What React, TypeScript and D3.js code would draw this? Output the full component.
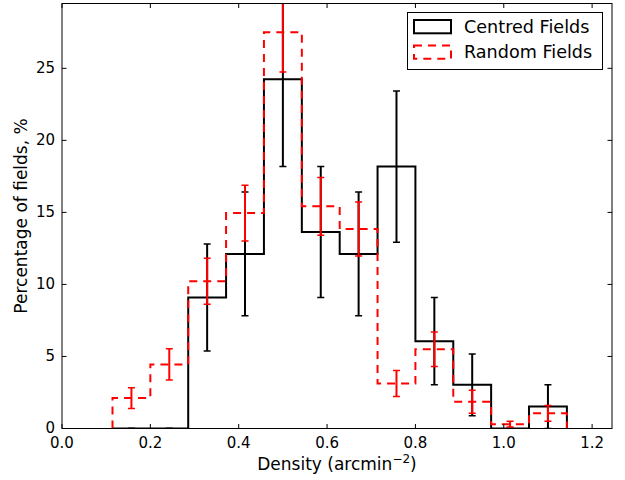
import React from "react";
import * as d3 from "d3";

const binEdges = [0.1143, 0.2, 0.2857, 0.3714, 0.4571, 0.5429, 0.6286, 0.7143, 0.8, 0.8857, 0.9714, 1.0571, 1.1429];
const centredValues = [0, 0, 9.09, 12.12, 24.24, 13.64, 12.12, 18.18, 6.06, 3.03, 0, 1.52];
const centredErrors = [0, 0, 3.71, 4.29, 6.06, 4.55, 4.29, 5.25, 3.03, 2.14, 0, 1.52];
const randomValues = [2.11, 4.45, 10.22, 14.95, 27.5, 15.42, 13.85, 3.12, 5.5, 1.85, 0.3, 1.05];
const randomErrors = [0.72, 1.08, 1.6, 1.93, 2.75, 2.0, 1.88, 0.9, 1.2, 0.8, 0.2, 0.55];
const xTicks = [0, 0.2, 0.4, 0.6, 0.8, 1.0, 1.2];
const yTicks = [0, 5, 10, 15, 20, 25];
const seriesNames = ["Centred Fields", "Random Fields"];

const W = 625, H = 480;
const L = 62, R = 612, T = 3.5, B = 428.5;
const FONT = "DejaVu Sans, sans-serif";

export default function App() {
  const x = d3.scaleLinear().domain([0, 1.245]).range([L, R]);
  const y = d3.scaleLinear().domain([0, 29.5]).range([B, T]);
  const centers = binEdges.slice(0, -1).map((e, i) => (e + binEdges[i + 1]) / 2);

  const stepPath = (vals: number[]) => {
    const pts: [number, number][] = [[binEdges[0], 0]];
    vals.forEach((v, i) => {
      pts.push([binEdges[i], v]);
      pts.push([binEdges[i + 1], v]);
    });
    pts.push([binEdges[binEdges.length - 1], 0]);
    return d3.line<[number, number]>().x(d => x(d[0])).y(d => y(d[1]))(pts) || "";
  };

  const errBars = (vals: number[], errs: number[], color: string) =>
    centers.map((c, i) => {
      const cx = x(c);
      const y1 = y(vals[i] + errs[i]);
      const y0 = y(Math.max(0, vals[i] - errs[i]));
      return (
        <g key={i} stroke={color}>
          <line x1={cx} x2={cx} y1={y0} y2={y1} strokeWidth={2} />
          <line x1={cx - 3.5} x2={cx + 3.5} y1={y0} y2={y0} strokeWidth={1.5} />
          <line x1={cx - 3.5} x2={cx + 3.5} y1={y1} y2={y1} strokeWidth={1.5} />
        </g>
      );
    });

  return (
    <svg width={W} height={H} style={{ position: "absolute", left: 0, top: 0, background: "#fff" }} fontFamily={FONT}>
      <defs>
        <clipPath id="plot">
          <rect x={L} y={T} width={R - L} height={B - T} />
        </clipPath>
      </defs>
      <rect x={0} y={0} width={W} height={H} fill="#fff" />
      <g clipPath="url(#plot)">
        <path d={stepPath(centredValues)} fill="none" stroke="#000" strokeWidth={2} strokeLinejoin="miter" />
        {errBars(centredValues, centredErrors, "#000")}
        <path d={stepPath(randomValues)} fill="none" stroke="#ff0000" strokeWidth={2} strokeDasharray="8,6" strokeLinejoin="miter" />
        {errBars(randomValues, randomErrors, "#ff0000")}
      </g>
      <rect x={L} y={T} width={R - L} height={B - T} fill="none" stroke="#000" strokeWidth={1} />
      {xTicks.map(t => (
        <g key={"x" + t}>
          <line x1={x(t)} x2={x(t)} y1={B} y2={B - 4.5} stroke="#000" strokeWidth={1} />
          <line x1={x(t)} x2={x(t)} y1={T} y2={T + 4.5} stroke="#000" strokeWidth={1} />
          <text x={x(t)} y={447.5} fontSize={15} textAnchor="middle" fill="#000">{t.toFixed(1)}</text>
        </g>
      ))}
      {yTicks.map(t => (
        <g key={"y" + t}>
          <line x1={L} x2={L + 4.5} y1={y(t)} y2={y(t)} stroke="#000" strokeWidth={1} />
          <line x1={R} x2={R - 4.5} y1={y(t)} y2={y(t)} stroke="#000" strokeWidth={1} />
          <text x={55} y={y(t)} dy="0.33em" fontSize={15} textAnchor="end" fill="#000">{t}</text>
        </g>
      ))}
      <text x={(L + R) / 2} y={470} fontSize={17} textAnchor="middle" fill="#000">
        Density (arcmin<tspan dy={-7} fontSize={12}>−2</tspan><tspan dy={7}>)</tspan>
      </text>
      <text transform={`translate(27,${(T + B) / 2}) rotate(-90)`} fontSize={17} textAnchor="middle" fill="#000">
        Percentage of fields, %
      </text>
      <rect x={407.5} y={12.5} width={195} height={57} fill="#fff" stroke="#000" strokeWidth={1} />
      <rect x={414} y={20} width={37} height={13.3} fill="none" stroke="#000" strokeWidth={2} />
      <text x={464} y={32.5} fontSize={17.6} fill="#000">{seriesNames[0]}</text>
      <rect x={414} y={45.5} width={37} height={13.3} fill="none" stroke="#ff0000" strokeWidth={2} strokeDasharray="8,6" />
      <text x={464} y={57.5} fontSize={17.6} fill="#000">{seriesNames[1]}</text>
    </svg>
  );
}
